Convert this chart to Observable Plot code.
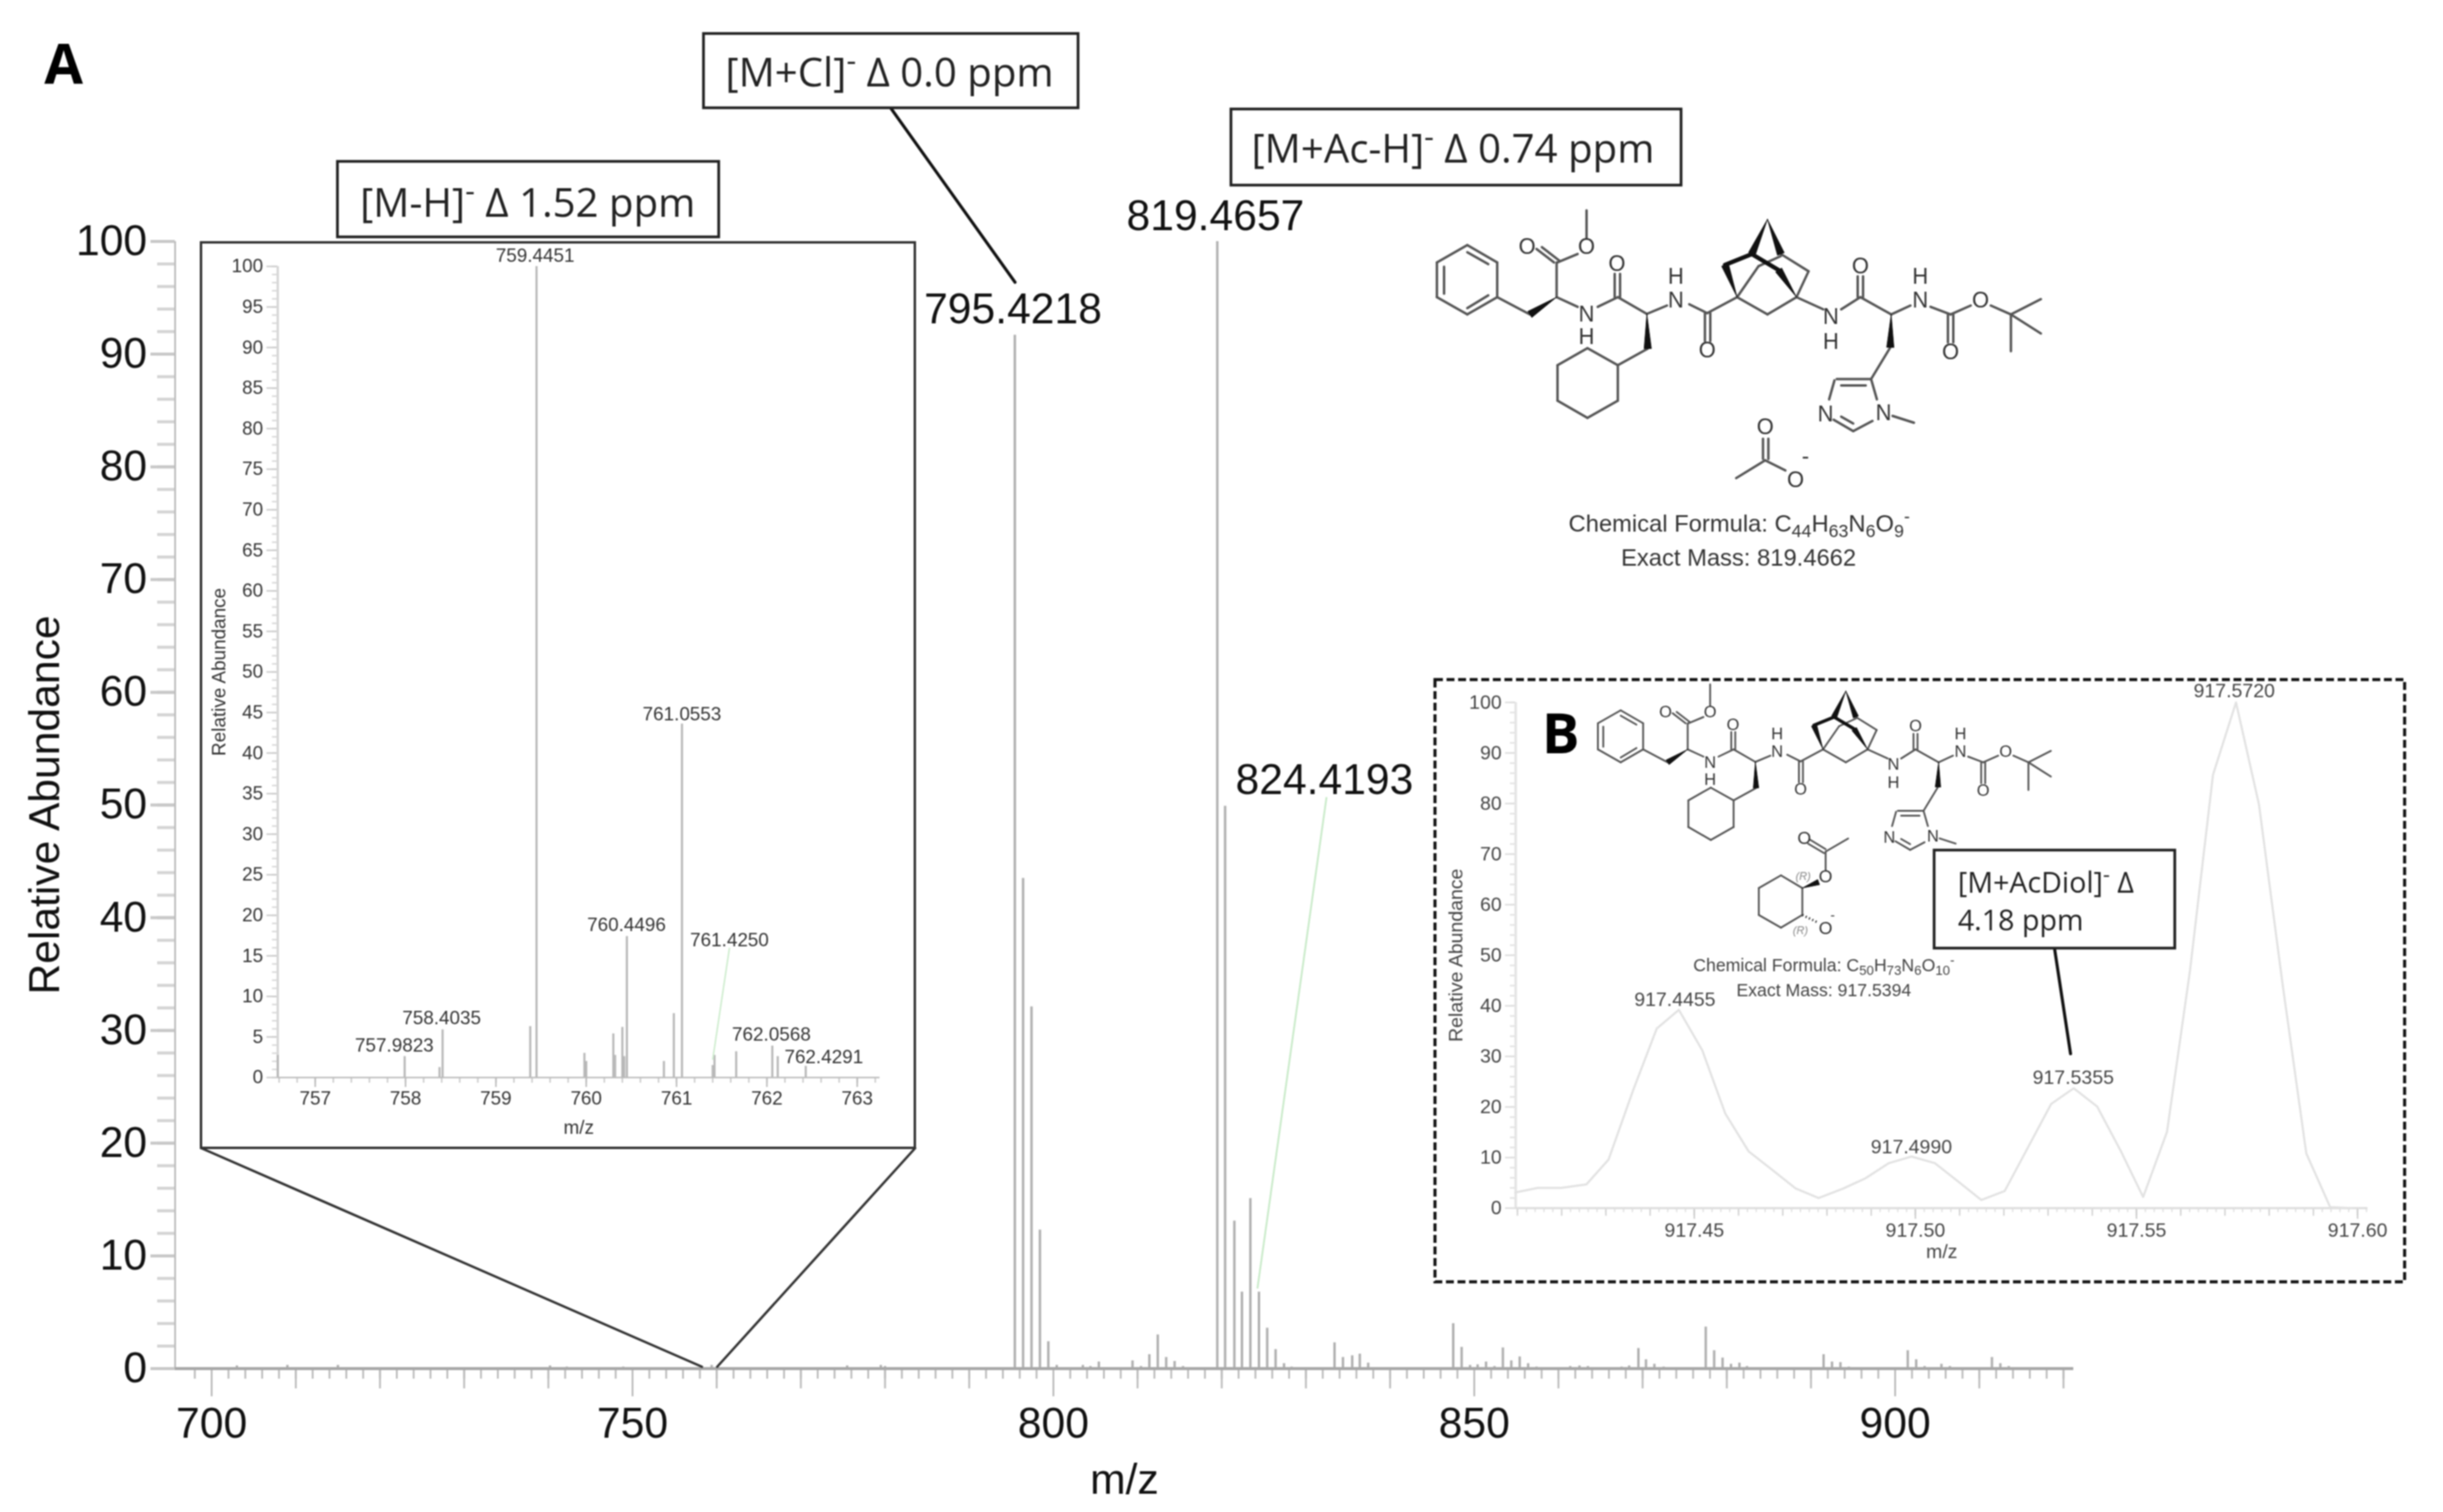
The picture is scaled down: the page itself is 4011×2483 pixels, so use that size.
<!DOCTYPE html>
<html><head><meta charset="utf-8">
<style>html,body{margin:0;padding:0;background:#fff;overflow:hidden}#page{position:relative;width:4011px;height:2483px;overflow:hidden;filter:blur(0.8px)}</style>
<script src="https://cdn.jsdelivr.net/npm/d3@7"></script>
<script src="https://cdn.jsdelivr.net/npm/@observablehq/plot@0.6"></script>
</head><body><div id="page"></div>
<script>
// ---------- DATA: main spectrum (panel A) ----------
const mainMz = [703,709,715,740.2,742.2,744.3,748.9,759.4,764.3,767.2,773,775.5,779.5,780,
 795.42,796.4,797.4,798.4,799.4,800.4,803.5,804.4,805.4,809.4,810.4,811.4,812.4,813.4,814.4,815.4,
 819.47,820.4,821.5,822.4,823.4,824.42,825.4,826.4,827.4,828.3,
 833.4,834.4,835.5,836.4,837.4,847.5,848.5,849.5,850.4,851.4,852.4,853.4,854.4,855.4,856.4,857.4,
 861.4,862.5,863.5,867.5,868.4,869.5,870.4,871.4,872.5,875.4,877.5,878.5,879.5,880.5,881.5,882.4,
 889.8,891.5,892.5,893.5,894.5,901.5,902.5,903.5,905.5,906.5,907.5,909.6,911.5,912.5,913.5];
const mainAbund = [.25,.3,.3,.25,.15,.1,.15,.3,.1,.1,.1,.25,.3,.2,
 91.7,43.5,32.1,12.3,2.4,.3,.3,.2,.6,.7,.2,1.25,3,1,.65,.2,
 100,49.9,13.1,6.8,15.1,6.8,3.6,1.7,.45,.15,
 2.3,1,1.15,1.3,.5,4,1.9,.3,.35,.6,.2,1.85,.7,1.05,.45,.15,
 .2,.25,.2,.15,.25,1.8,.8,.4,.15,.1,3.7,1.6,.95,.4,.5,.2,
 .1,1.25,.6,.55,.15,1.6,.8,.2,.4,.2,.1,.1,1,.45,.2];
const mainLabels = ["795.4218","819.4657","824.4193"];
const mainLabelMz = [795.2,819.25,832.2];
const mainLabelAb = [93.95,102.2,52.2];

// ---------- DATA: inset [M-H]- ----------
const insetAMz = [756.586,757.99,758.376,758.41,759.38,759.45,759.98,760.0,760.3,760.32,760.4,760.42,760.45,
 760.86,760.97,761.06,761.4,761.42,761.66,762.06,762.12,762.43];
const insetAAbund = [2.75,2.6,1.25,5.9,6.3,100,3,2,5.4,2.75,6.2,2.6,17.4,2,7.9,43.6,1.5,2.75,3.2,3.9,2.6,1.4];
const insetALabels = ["759.4451","761.0553","760.4496","761.4250","758.4035","757.9823","762.0568","762.4291"];
const insetALabelMz = [759.435,761.06,760.446,761.586,758.4,757.876,762.05,762.63];
const insetALabelAb = [101.3,44.8,18.8,16.9,7.3,3.9,5.3,2.5];

// ---------- DATA: inset [M+AcDiol]- ----------
const insetBMz = [917.4095,917.4146,917.4199,917.4256,917.4306,917.4362,917.4415,917.4465,917.4518,917.457,917.4623,917.4677,917.4729,917.4781,917.4835,917.4887,917.494,917.4991,917.5044,917.5096,917.5149,917.5202,917.5307,917.5358,917.5411,917.5465,917.5515,917.5569,917.5621,917.5673,917.5725,917.5777,917.583,917.5884,917.5938,917.5986];
const insetBAbund = [3.1,4,4,4.7,9.6,23.4,35.5,39.2,31.2,18.7,11.2,7.5,3.9,2,3.8,5.9,8.9,10.2,8.9,5.3,1.6,3.4,20.6,23.7,20.1,11.2,2.2,15.1,47,85.7,100,79.8,44.5,10.8,.2,0];
const insetBLabels = ["917.4455","917.4990","917.5355","917.5720"];
const insetBLabelMz = [917.4456,917.4991,917.5357,917.5721];
const insetBLabelAb = [41.2,12.1,25.8,102.2];

// ---------- page geometry of the three plot frames ----------
const W = 4011, H = 2483;
const SANS = "Liberation Sans, Arial, sans-serif";
const UI = "Open Sans, sans-serif";
function frame(l, r, t, b) {
  return {width: W, height: H, marginLeft: l, marginRight: W - r, marginTop: t, marginBottom: H - b,
    style: {position: "absolute", left: 0, top: 0, background: "transparent", overflow: "visible", maxWidth: "none", fontFamily: SANS}};
}
const page = document.getElementById("page");

// ---------- main spectrum ----------
const peaks = mainMz.map((mz, i) => ({mz, ab: mainAbund[i]}));
const mainLab = mainLabels.map((t, i) => ({t, mz: mainLabelMz[i], ab: mainLabelAb[i]}));
page.append(Plot.plot({...frame(287, 3404, 396, 2247),
  x: {domain: [695.66, 921.2]}, y: {domain: [0, 100]},
  marks: [
    Plot.axisY(d3.range(0, 100, 2), {anchor: "left", tickSize: 29, fill: "none", stroke: "#d4d4d4", strokeWidth: 5, label: null}),
    Plot.axisY(d3.range(0, 101, 10), {anchor: "left", tickSize: 40, tickPadding: 6, stroke: "#c8c8c8", strokeWidth: 5, fill: "#111", fontSize: 70,
      label: "Relative Abundance", labelAnchor: "center", labelOffset: 240, labelArrow: "none"}),
    Plot.axisX(d3.range(698, 921, 2), {anchor: "bottom", tickSize: 17, fill: "none", stroke: "#bbb", strokeWidth: 3, label: null}),
    Plot.axisX(d3.range(700, 921, 10), {anchor: "bottom", tickSize: 33, fill: "none", stroke: "#bbb", strokeWidth: 3, label: null}),
    Plot.axisX([700, 750, 800, 850, 900], {anchor: "bottom", tickSize: 46, tickPadding: 18, stroke: "#bbb", strokeWidth: 3, fill: "#111", fontSize: 70,
      label: "m/z", labelAnchor: "center", labelOffset: 205, labelArrow: "none"}),
    Plot.ruleX([695.66], {stroke: "#bdbdbd", strokeWidth: 3}),
    Plot.ruleX(peaks, {x: "mz", y1: 0, y2: "ab", stroke: "#b0b0b0", strokeWidth: 4}),
    Plot.ruleY([0], {stroke: "#a8a8a8", strokeWidth: 5}),
    Plot.link([{x1: 832.45, y1: 50.7, x2: 824.24, y2: 7.1}], {x1: "x1", y1: "y1", x2: "x2", y2: "y2", stroke: "#c8eac8", strokeWidth: 3}),
    Plot.text(mainLab, {x: "mz", y: "ab", text: "t", fontSize: 70, fill: "#111"})
  ]}));

// ---------- inset A ----------
const pA = insetAMz.map((mz, i) => ({mz, ab: insetAAbund[i]}));
const labA = insetALabels.map((t, i) => ({t, mz: insetALabelMz[i], ab: insetALabelAb[i]}));
page.append(Plot.plot({...frame(455.5, 1444, 437, 1769),
  x: {domain: [756.585, 763.25]}, y: {domain: [0, 100]},
  marks: [
    Plot.axisY(d3.range(0, 101, 1), {anchor: "left", tickSize: 9, fill: "none", stroke: "#d8d8d8", strokeWidth: 2.5, label: null}),
    Plot.axisY(d3.range(0, 101, 5), {anchor: "left", tickSize: 18, tickPadding: 6, stroke: "#ccc", strokeWidth: 2.5, fill: "#333", fontSize: 31,
      label: "Relative Abundance", labelAnchor: "center", labelOffset: 108, labelArrow: "none"}),
    Plot.axisX(d3.range(756.6, 763.25, 0.2), {anchor: "bottom", tickSize: 9, fill: "none", stroke: "#ccc", strokeWidth: 2.5, label: null}),
    Plot.axisX(d3.range(757, 764), {anchor: "bottom", tickSize: 16, tickPadding: 6, tickFormat: d => String(d), stroke: "#bbb", strokeWidth: 2.5, fill: "#333", fontSize: 31,
      label: "m/z", labelAnchor: "center", labelOffset: 92, labelArrow: "none"}),
    Plot.ruleX([756.585], {stroke: "#d8d8d8", strokeWidth: 4}),
    Plot.ruleX(pA, {x: "mz", y1: 0, y2: "ab", stroke: "#b8b8b8", strokeWidth: 3.5}),
    Plot.ruleY([0], {stroke: "#bbb", strokeWidth: 2.5}),
    Plot.link([{x1: 761.586, y1: 16, x2: 761.4, y2: 2.2}], {x1: "x1", y1: "y1", x2: "x2", y2: "y2", stroke: "#cdeccd", strokeWidth: 2.5}),
    Plot.text(labA, {x: "mz", y: "ab", text: "t", fontSize: 31, fill: "#333"})
  ]}));

// ---------- inset B ----------
const pB = insetBMz.map((mz, i) => ({mz, ab: insetBAbund[i]}));
const labB = insetBLabels.map((t, i) => ({t, mz: insetBLabelMz[i], ab: insetBLabelAb[i]}));
page.append(Plot.plot({...frame(2488, 3887, 1153, 1983.5),
  x: {domain: [917.4096, 917.6023]}, y: {domain: [0, 100]},
  marks: [
    Plot.axisY(d3.range(0, 101, 2), {anchor: "left", tickSize: 9, fill: "none", stroke: "#e2e2e2", strokeWidth: 2.5, label: null}),
    Plot.axisY(d3.range(0, 101, 10), {anchor: "left", tickSize: 17, tickPadding: 6, stroke: "#ddd", strokeWidth: 2.5, fill: "#444", fontSize: 32,
      label: "Relative Abundance", labelAnchor: "center", labelOffset: 110, labelArrow: "none"}),
    Plot.axisX(d3.range(917.41, 917.6023, 0.002), {anchor: "bottom", tickSize: 7, fill: "none", stroke: "#ddd", strokeWidth: 2, label: null}),
    Plot.axisX(d3.range(917.41, 917.605, 0.01), {anchor: "bottom", tickSize: 13, fill: "none", stroke: "#d4d4d4", strokeWidth: 2.5, label: null}),
    Plot.axisX([917.45, 917.5, 917.55, 917.6], {anchor: "bottom", tickSize: 18, tickPadding: 6, tickFormat: d => d.toFixed(2), stroke: "#ccc", strokeWidth: 2.5, fill: "#444", fontSize: 32,
      label: "m/z", labelAnchor: "center", labelOffset: 82, labelArrow: "none"}),
    Plot.ruleX([917.4096], {stroke: "#e4e4e4", strokeWidth: 4}),
    Plot.ruleY([0], {stroke: "#ddd", strokeWidth: 3.5}),
    Plot.line(pB, {x: "mz", y: "ab", stroke: "#e2e2e2", strokeWidth: 3.5}),
    Plot.text(labB, {x: "mz", y: "ab", text: "t", fontSize: 32, fill: "#444"})
  ]}));

// ---------- structure drawing, in its own sketch units ----------
const molBonds = [
 [148,197,215,265],[215,265,215,402],[215,402,148,470],[148,470,80,402],[80,402,80,265],[80,265,148,197],
 [148,225,195,272],[96,282,96,388],[148,445,195,395],
 [215,402,288,470],[348,402,348,265],[342,265,303,212],[354,258,315,205],[350,265,395,232],[415,170,415,60],
 [348,402,395,440],[440,440,485,402],[478,402,478,310],[490,402,490,310],[485,402,550,468],[550,468,595,435],
 [552,605,485,670],[485,670,485,810],[485,810,417,878],[417,878,350,810],[350,810,350,670],[350,670,417,603],[417,603,485,670],
 [645,430,685,465],[680,465,680,575],[692,465,692,575],[685,465,752,402],[752,402,820,470],[820,470,885,402],
 [850,232,912,300],[912,300,885,402],[752,402,800,280],[800,280,850,240],
 [885,402,945,450],[985,450,1028,402],[1022,402,1022,320],[1034,402,1034,320],[1028,402,1097,470],[1097,470,1140,435],
 [1185,440,1230,470],[1224,470,1224,580],[1236,470,1236,580],[1230,470,1275,435],[1320,435,1365,470],
 [1365,470,1432,410],[1365,470,1432,545],[1365,470,1365,615],
 [1095,600,1052,725],[1052,725,975,725],[1040,750,985,750],[1052,725,1065,805],[970,730,958,805],[968,885,1012,930],[985,873,1012,900],[1012,930,1055,890],[1100,870,1148,897]
];
const acetateBonds = [[810,960,810,1040],[822,960,822,1040],[815,1045,750,1115],[815,1045,860,1085]];
const molBold = [[725,275,785,232],[785,232,845,295]];
const molWedges = [[348,402,288,470],[550,468,552,605],[1097,470,1095,600],[752,402,725,275],[820,95,785,232],[820,95,850,232],[885,402,845,295]];
const molAtoms = [["O",282,205],["O",415,205],["N",415,470],["H",415,560],["O",483,272],["N",615,414],["H",615,322],["O",685,612],
 ["N",962,480],["H",962,578],["O",1028,280],["N",1162,414],["H",1162,322],["O",1230,620],["O",1297,415],["N",950,865],["N",1080,860]];
const acetateAtoms = [["O",815,915],["O",883,1122],["-",905,1030]];
const diolBonds = [[990,428,1030,452],[985,438,1026,462],[1030,458,1088,425],[1030,458,1030,505],
 [970,550,970,618],[970,618,915,650],[915,650,858,618],[858,618,858,550],[858,550,915,518],[915,518,970,550]];
const diolAtoms = [["O",975,425],["O",1030,522],["O",1030,652]];
const diolItalic = [["(R)",972,520],["(R)",965,657]];

// placing helpers for the drawings and callouts
const toA = (x, y) => [2300 + x / 1.3635, 320 + y / 2.4];
const toB = (x, y) => { const [X, Y] = toA(x, y); return [2660 + (X - 2408) * .75, 1208 + (Y - 458) * .75]; };
const toD = (x, y) => [2340 + x / 1.568, 1100 + y / 1.537];
const seg = (list, f) => list.map(([a, b, c, d]) => { const p = f(a, b), q = f(c, d); return {x1: p[0], y1: p[1], x2: q[0], y2: q[1]}; });
const atoms = (list, f) => list.map(([t, a, b]) => { const p = f(a, b); return {t, x: p[0], y: p[1]}; });
function wedgePolys(list, f, w) {
  const out = [];
  list.forEach(([a, b, c, d], i) => {
    const p = f(a, b), q = f(c, d), dx = q[0] - p[0], dy = q[1] - p[1], L = Math.hypot(dx, dy);
    const nx = -dy / L * w, ny = dx / L * w;
    [[p[0], p[1]], [q[0] + nx, q[1] + ny], [q[0] - nx, q[1] - ny], [p[0], p[1]]].forEach(v => out.push({x: v[0], y: v[1], id: i}));
  });
  return out;
}
const linkOpt = (stroke, strokeWidth) => ({x1: "x1", y1: "y1", x2: "x2", y2: "y2", stroke, strokeWidth, strokeLinecap: "round"});
const txt = (fontSize, fill, extra = {}) => ({x: "x", y: "y", text: "t", fontSize, fill, fontFamily: SANS, ...extra});

// callouts
const boxes = [
 {x1: 1155, x2: 1770, y1: 55, y2: 177}, {x1: 554, x2: 1180, y1: 265, y2: 389}, {x1: 2021, x2: 2760, y1: 179, y2: 304}
];
const boxTexts = [
 {t: "[M+Cl]^-^ Δ 0.0 ppm", x: 1460, y: 120}, {t: "[M-H]^-^ Δ 1.52 ppm", x: 866, y: 334}, {t: "[M+Ac-H]^-^ Δ 0.74 ppm", x: 2385, y: 245}
];

page.append(Plot.plot({width: W, height: H, margin: 0,
  x: {domain: [0, W], range: [0, W], axis: null}, y: {domain: [0, H], range: [0, H], axis: null},
  style: {position: "absolute", left: 0, top: 0, background: "transparent", overflow: "visible", maxWidth: "none", fontFamily: SANS},
  marks: [
    // inset A frame and zoom lines
    Plot.rect([{x1: 330, x2: 1502, y1: 398, y2: 1885}], {x1: "x1", x2: "x2", y1: "y1", y2: "y2", fill: "none", stroke: "#333", strokeWidth: 4}),
    Plot.link([{x1: 330, y1: 1885, x2: 1152, y2: 2244}, {x1: 1502, y1: 1885, x2: 1177, y2: 2244}], linkOpt("#333", 4)),
    // callouts
    Plot.link([{x1: 1462, y1: 177, x2: 1666, y2: 463}, {x1: 3373, y1: 1559, x2: 3399, y2: 1730}], linkOpt("#111", 5)),
    Plot.rect(boxes, {x1: "x1", x2: "x2", y1: "y1", y2: "y2", fill: "#fff", stroke: "#222", strokeWidth: 4.5}),
    Plot.text(boxTexts, txt(66, "#222", {fontFamily: UI})),
    // inset B dashed frame and callout
    Plot.rect([{x1: 2356, x2: 3948, y1: 1116, y2: 2105}], {x1: "x1", x2: "x2", y1: "y1", y2: "y2", fill: "none", stroke: "#111", strokeWidth: 5, strokeDasharray: "13,6"}),
    Plot.rect([{x1: 3175.5, x2: 3570.6, y1: 1396, y2: 1557}], {x1: "x1", x2: "x2", y1: "y1", y2: "y2", fill: "#fff", stroke: "#222", strokeWidth: 4.5}),
    Plot.text([{t: "[M+AcDiol]^-^ Δ", x: 3214, y: 1450}, {t: "4.18 ppm", x: 3214, y: 1512}], txt(47, "#222", {fontFamily: UI, textAnchor: "start"})),
    // panel letters
    Plot.text([{t: "A", x: 104, y: 108}, {t: "B", x: 2562, y: 1207}], txt(92, "#000", {fontFamily: UI, fontWeight: 700})),
    // structure A
    Plot.link(seg([...molBonds, ...acetateBonds], toA), linkOpt("#555", 4)),
    Plot.link(seg(molBold, toA), linkOpt("#111", 7)),
    Plot.line(wedgePolys(molWedges, toA, 6), {x: "x", y: "y", z: "id", fill: "#111", stroke: "#111", strokeWidth: 1}),
    Plot.text(atoms([...molAtoms, ...acetateAtoms], toA), txt(36, "#333")),
    Plot.text([{t: "Chemical Formula: C~44~H~63~N~6~O~9~^-^", x: 2855, y: 860}, {t: "Exact Mass: 819.4662", x: 2854, y: 916}], txt(39, "#333")),
    // structure B
    Plot.link(seg(molBonds, toB), linkOpt("#555", 3)),
    Plot.link(seg(molBold, toB), linkOpt("#111", 5.5)),
    Plot.line(wedgePolys(molWedges, toB, 4.5), {x: "x", y: "y", z: "id", fill: "#111", stroke: "#111", strokeWidth: 1}),
    Plot.text(atoms(molAtoms, toB), txt(27, "#333")),
    Plot.link(seg(diolBonds, toD), linkOpt("#555", 3)),
    Plot.link(seg([[970,618,1012,638]], toD), {...linkOpt("#333", 4), strokeDasharray: "2,4", strokeLinecap: "butt"}),
    Plot.line(wedgePolys([[970,550,1012,535]], toD, 4.5), {x: "x", y: "y", z: "id", fill: "#111", stroke: "#111", strokeWidth: 1}),
    Plot.text(atoms(diolAtoms, toD), txt(29, "#333")),
    Plot.text(atoms([["-",1048,618]], toD), txt(22, "#333")),
    Plot.text(atoms(diolItalic, toD), txt(18, "#888", {fontStyle: "italic"})),
    Plot.text([{t: "Chemical Formula: C~50~H~73~N~6~O~10~^-^", x: 2994, y: 1585}, {t: "Exact Mass: 917.5394", x: 2994, y: 1626}], txt(29, "#444"))
  ]}));

// turn ^sup^ and ~sub~ markers in text into real super/subscripts
d3.selectAll("#page svg text").each(function () {
  const s = this.textContent;
  if (!/[\^~]/.test(s)) return;
  const fs = parseFloat(getComputedStyle(this).fontSize);
  this.textContent = "";
  let shift = 0;
  s.split(/(\^[^^]*\^|~[^~]*~)/).filter(Boolean).forEach(part => {
    const sup = part[0] === "^", sub = part[0] === "~";
    const target = sup ? -0.38 * fs : sub ? 0.22 * fs : 0;
    const t = document.createElementNS("http://www.w3.org/2000/svg", "tspan");
    t.textContent = sup || sub ? part.slice(1, -1) : part;
    if (sup || sub) t.setAttribute("font-size", fs * 0.75);
    t.setAttribute("dy", target - shift);
    shift = target;
    this.appendChild(t);
  });
});
</script></body></html>
